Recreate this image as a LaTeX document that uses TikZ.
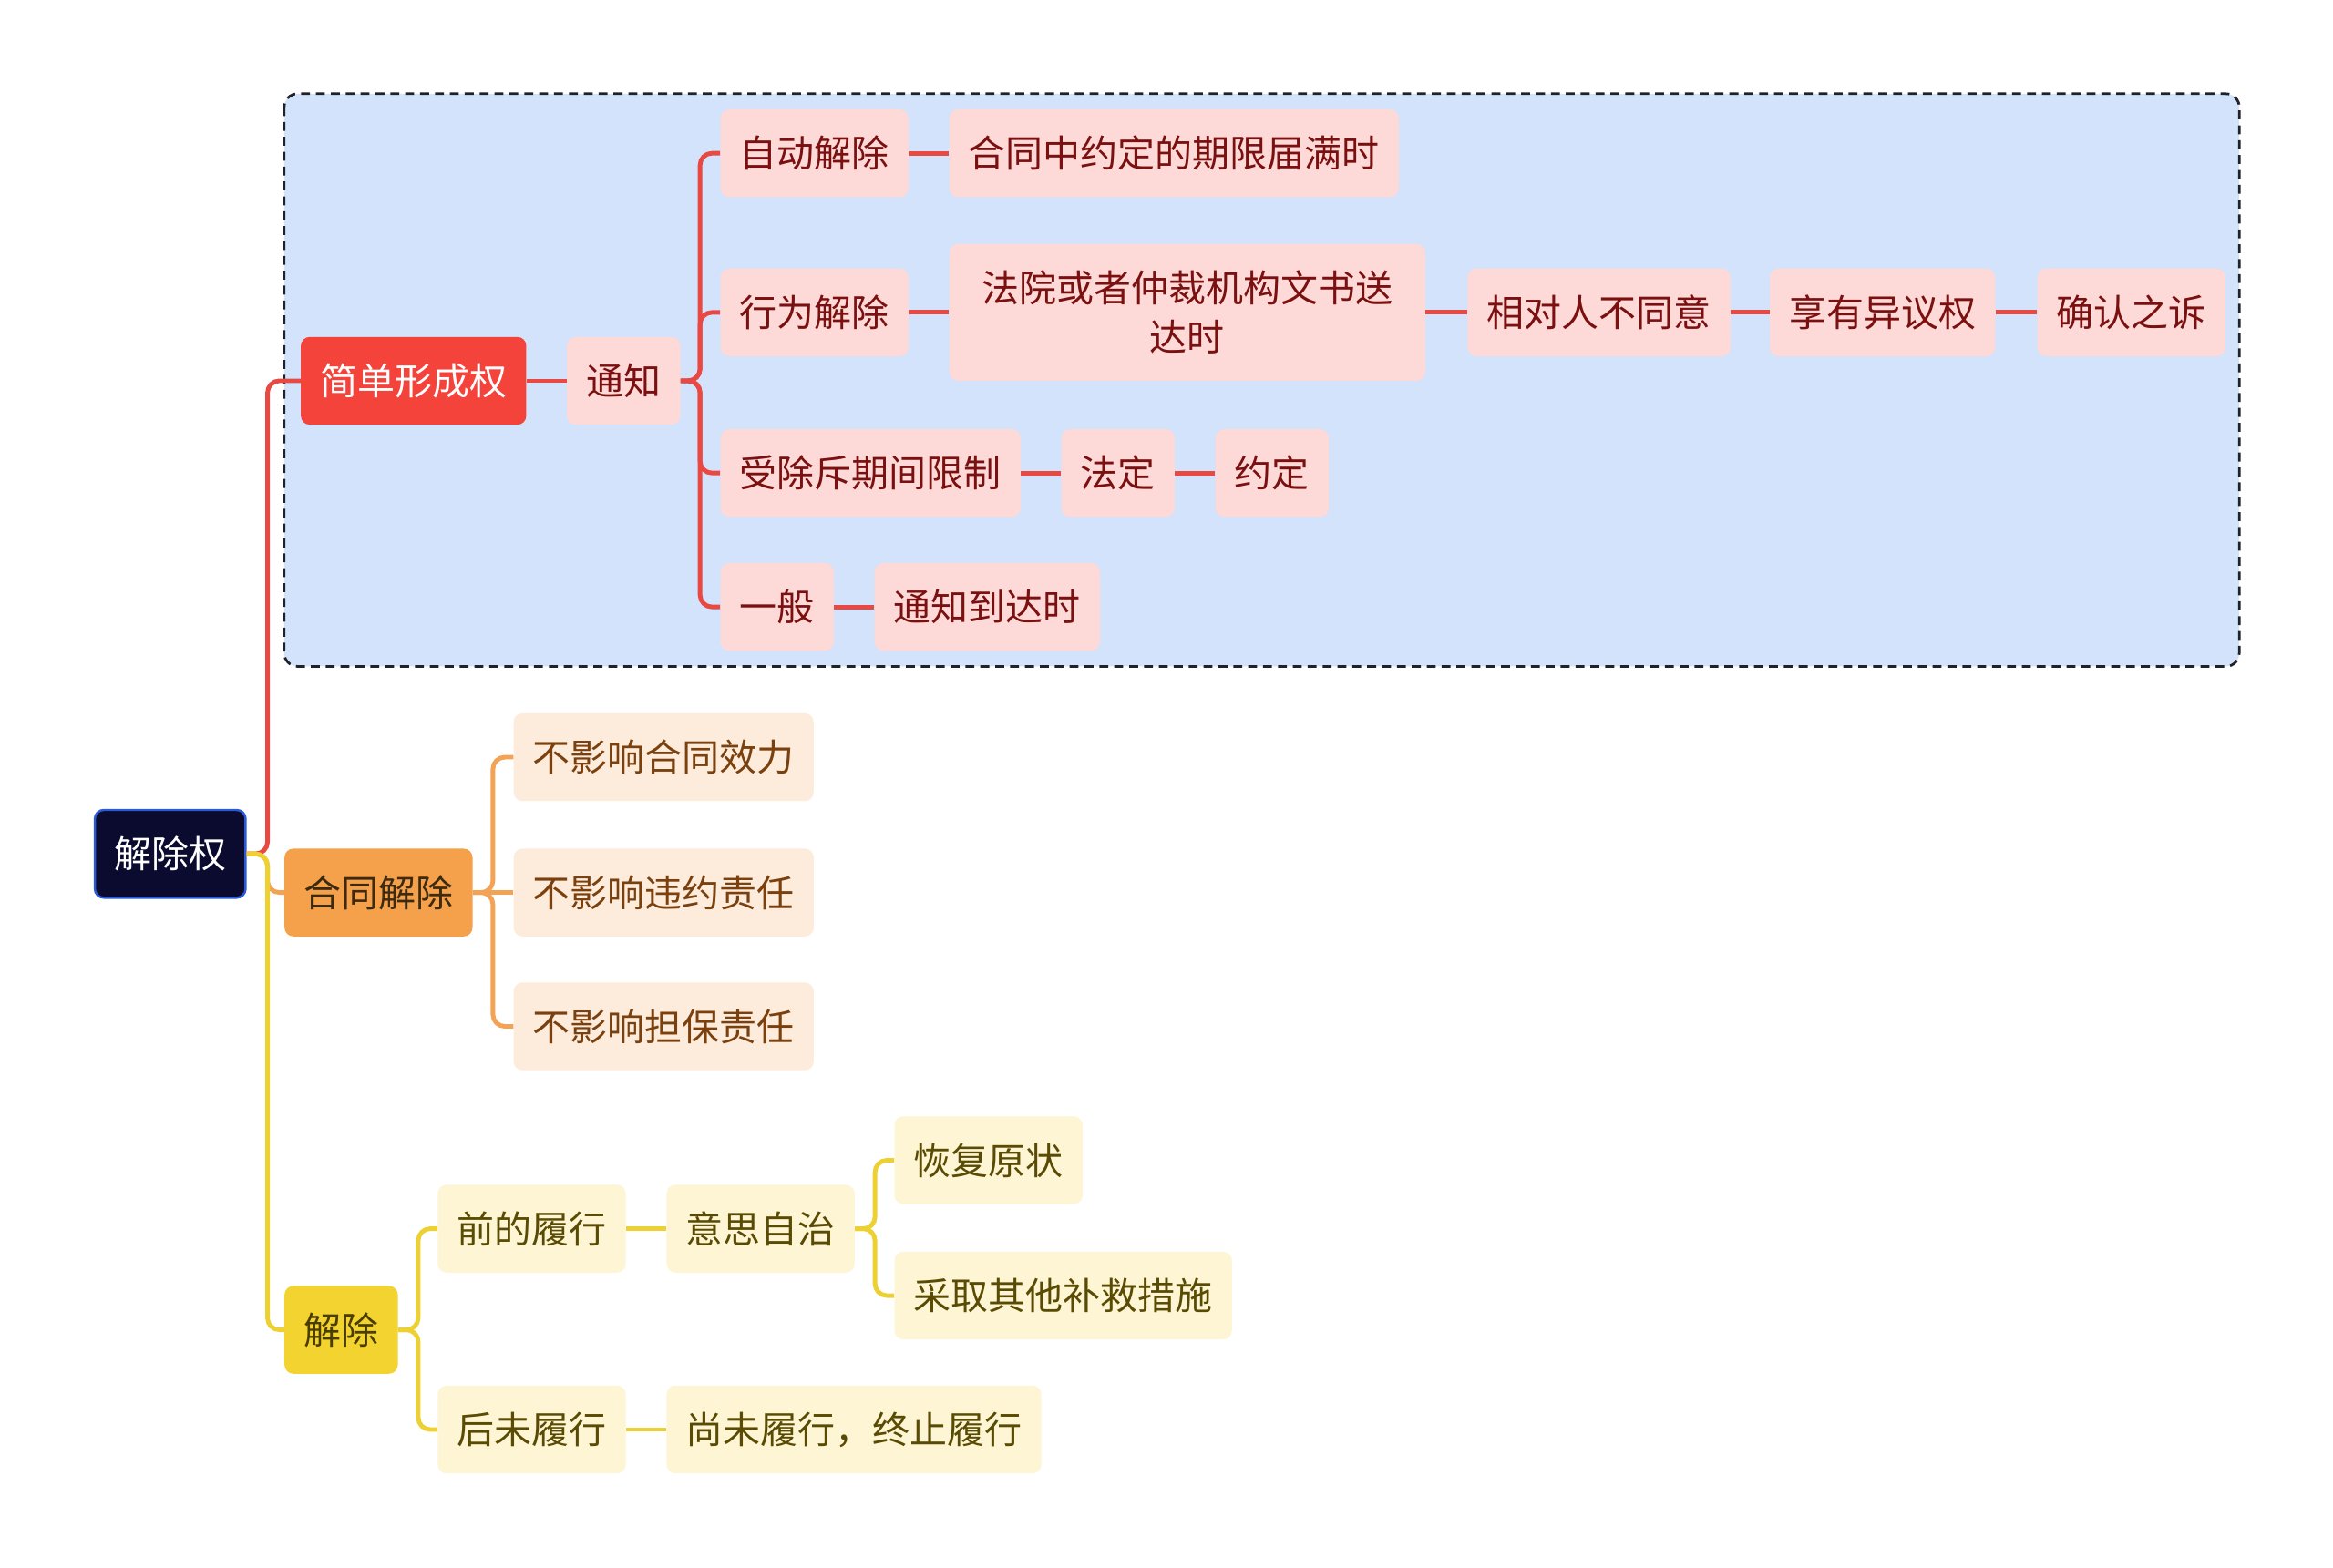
\documentclass[tikz,border=0pt]{standalone}
\usepackage{fontspec}
\setmainfont{Noto Sans CJK SC}
\usetikzlibrary{positioning}
\definecolor{RootNavy}{HTML}{0B0B30}
\definecolor{RootEdge}{HTML}{2A5BD7}
\definecolor{RedMain}{HTML}{F4433B}
\definecolor{RedLine}{HTML}{E84A43}
\definecolor{RedBg}{HTML}{FDD9D7}
\definecolor{RedText}{HTML}{7A1010}
\definecolor{OrangeMain}{HTML}{F5A14B}
\definecolor{OrangeLine}{HTML}{F2A356}
\definecolor{OrangeBg}{HTML}{FDEBDC}
\definecolor{OrangeText}{HTML}{7A400E}
\definecolor{OrangeDark}{HTML}{3D2A10}
\definecolor{YellowMain}{HTML}{F3D32F}
\definecolor{YellowLine}{HTML}{EDD132}
\definecolor{YellowBg}{HTML}{FDF5D3}
\definecolor{YellowText}{HTML}{5A4B04}
\definecolor{YellowDark}{HTML}{4A3D00}
\definecolor{GroupBg}{HTML}{D3E3FB}
\definecolor{GroupEdge}{HTML}{1F2329}

\begin{document}
\begin{tikzpicture}[x=1pt, y=-1pt, node distance=27pt,
    box/.style={rounded corners=6pt, inner xsep=13pt, inner ysep=0pt, minimum height=59pt, font=\fontsize{25.1}{33}\selectfont},
    rootbox/.style={box, fill=RootNavy, draw=RootEdge, line width=1.5pt, text=white},
    redtop/.style={box, fill=RedMain, text=white},
    redsub/.style={box, fill=RedBg, text=RedText},
    orangetop/.style={box, fill=OrangeMain, text=OrangeDark},
    orangesub/.style={box, fill=OrangeBg, text=OrangeText},
    yellowtop/.style={box, fill=YellowMain, text=YellowDark},
    yellowsub/.style={box, fill=YellowBg, text=YellowText},
    redlink/.style={draw=RedLine, line width=3pt, rounded corners=8pt},
    orangelink/.style={draw=OrangeLine, line width=3pt, rounded corners=8pt},
    yellowlink/.style={draw=YellowLine, line width=3pt, rounded corners=8pt}]
  \useasboundingbox[fill=white] (0,0) rectangle (1568,1054);
  % group frame
  \draw[GroupEdge, fill=GroupBg, dash pattern=on 6pt off 4pt, line width=1.7pt, rounded corners=9pt] (191,63) rectangle (1505,448);

  \node[rootbox, anchor=west] (jcq) at (63,574) {解除权};

  % red branch
  \node[redtop, anchor=west] (jdxc) at (202,256) {简单形成权};
  \node[redsub, right=of jdxc] (tz) {通知};
  \node[redsub, anchor=west] (zdjc) at (484,103) {自动解除};
  \node[redsub, right=of zdjc] (qxjm) {合同中约定的期限届满时};
  \node[redsub, anchor=west] (xwjc) at (484,210) {行为解除};
  \node[redsub, right=of xwjc, text width=294pt, align=center, minimum height=92pt] (fysd) {法院或者仲裁机构文书送\\达时};
  \node[redsub, right=28pt of fysd] (drbty) {相对人不同意};
  \node[redsub, right=26pt of drbty] (yyq) {享有异议权};
  \node[redsub, right=28pt of yyq] (qrzs) {确认之诉};
  \node[redsub, anchor=west] (cdq) at (484,318) {受除斥期间限制};
  \node[redsub, right=of cdq] (fd) {法定};
  \node[redsub, right=of fd] (yd) {约定};
  \node[redsub, anchor=west] (yb) at (484,408) {一般};
  \node[redsub, right=of yb] (tzdd) {通知到达时};

  % orange branch
  \node[orangetop, anchor=west] (htjc) at (191,600) {合同解除};
  \node[orangesub, anchor=west] (xl) at (345,509) {不影响合同效力};
  \node[orangesub, anchor=west] (wy) at (345,600) {不影响违约责任};
  \node[orangesub, anchor=west] (db) at (345,690) {不影响担保责任};

  % yellow branch
  \node[yellowtop, anchor=west] (jc) at (191,894) {解除};
  \node[yellowsub, anchor=west] (qlx) at (294,826) {前的履行};
  \node[yellowsub, right=of qlx] (yszz) {意思自治};
  \node[yellowsub, anchor=west] (hfyz) at (601,780) {恢复原状};
  \node[yellowsub, anchor=west] (bjcs) at (601,871) {采取其他补救措施};
  \node[yellowsub, anchor=west] (hwlx) at (294,961) {后未履行};
  \node[yellowsub, right=of hwlx] (zzlx) {尚未履行，终止履行};

  % links
  \draw[redlink] (jcq.east) -- ++(14,0) |- (jdxc.west);
  \draw[orangelink] (jcq.east) -- ++(14,0) |- (htjc.west);
  \draw[yellowlink] (jcq.east) -- ++(14,0) |- (jc.west);

  \draw[redlink] (jdxc) -- (tz);
  \foreach \c in {zdjc,xwjc,cdq,yb}
    \draw[redlink] (tz.east) -- ++(13,0) |- (\c.west);
  \draw[redlink] (zdjc) -- (qxjm);
  \draw[redlink] (xwjc) -- (fysd);
  \draw[redlink] (fysd) -- (drbty);
  \draw[redlink] (drbty) -- (yyq);
  \draw[redlink] (yyq) -- (qrzs);
  \draw[redlink] (cdq) -- (fd);
  \draw[redlink] (fd) -- (yd);
  \draw[redlink] (yb) -- (tzdd);

  \foreach \c in {xl,db}
    \draw[orangelink] (htjc.east) -- ++(13.5,0) |- (\c.west);
  \draw[orangelink] (htjc) -- (wy);

  \foreach \c in {qlx,hwlx}
    \draw[yellowlink] (jc.east) -- ++(13.5,0) |- (\c.west);
  \draw[yellowlink] (qlx) -- (yszz);
  \foreach \c in {hfyz,bjcs}
    \draw[yellowlink] (yszz.east) -- ++(13.5,0) |- (\c.west);
  \draw[yellowlink] (hwlx) -- (zzlx);
\end{tikzpicture}
\end{document}
